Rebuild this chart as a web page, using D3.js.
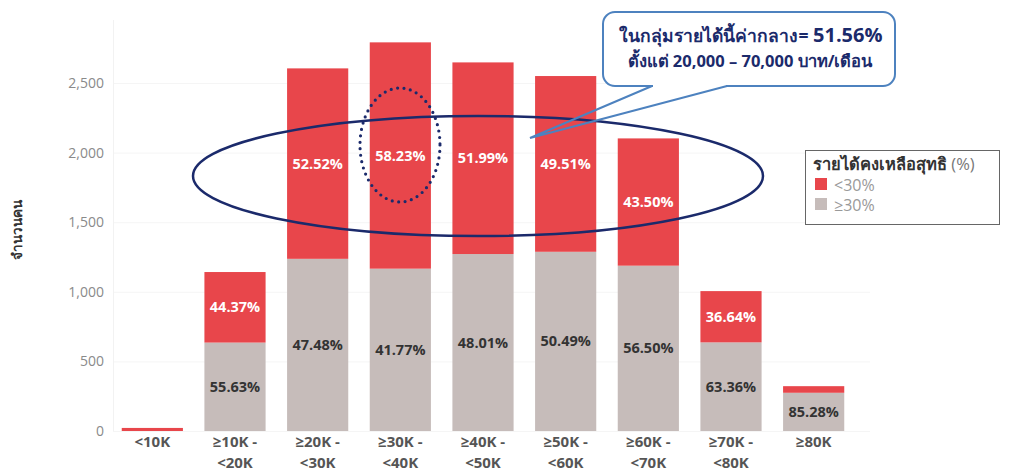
<!DOCTYPE html>
<html lang="th">
<head>
<meta charset="utf-8">
<script src="https://cdn.jsdelivr.net/npm/d3@7"></script>
<style>
  html, body { margin: 0; padding: 0; background: #fff; }
  svg { display: block; font-family: "Open Sans", "Noto Sans", "DejaVu Sans", sans-serif; }
</style>
</head>
<body>
<svg id="chart" width="1009" height="473"></svg>
<script>
// Income brackets (monthly, baht)
const categories = ["<10K", "≥10K -\n<20K", "≥20K -\n<30K", "≥30K -\n<40K", "≥40K -\n<50K",
                    "≥50K -\n<60K", "≥60K -\n<70K", "≥70K -\n<80K", "≥80K"];
// Number of people in each bracket
const totals = [22, 1142, 2605, 2792, 2648, 2550, 2102, 1005, 322];
// Share with net remaining income <30% (null = no label shown)
const lowShare = [null, 44.37, 52.52, 58.23, 51.99, 49.51, 43.50, 36.64, 14.72];
// Share with net remaining income ≥30%
const highShare = [null, 55.63, 47.48, 41.77, 48.01, 50.49, 56.50, 63.36, 85.28];
// Which <30% labels are printed inside the bars
const showLowLabel = [false, true, true, true, true, true, true, true, false];
const yTicks = [0, 500, 1000, 1500, 2000, 2500];

const legendTitle = "รายได้คงเหลือสุทธิ";
const legendTitleUnit = " (%)";
const legendItems = ["<30%", "≥30%"];
const yTitle = "จำนวนคน";
const noteLine1 = "ในกลุ่มรายได้นี้ค่ากลาง= ";
const noteValue = "51.56%";
const noteLine2 = "ตั้งแต่ 20,000 – 70,000 บาท/เดือน";

const RED = "#e8464b", GRAY = "#c6bcba", NAVY = "#1b2a6b", BLUE = "#4d82bf";

const svg = d3.select("#chart");

const x = d3.scaleBand().domain(categories).range([111, 855])
  .paddingInner(0.26).paddingOuter(0.13);
const y = d3.scaleLinear().domain([0, 2500]).range([431, 83]);

// Stacked segments: ≥30% at the bottom, <30% on top
const rows = categories.map((c, i) => {
  const hiPct = highShare[i] == null ? 0 : highShare[i];
  const hi = totals[i] * hiPct / 100;
  return { cat: c, i, hi, total: totals[i] };
});

// faint gridlines
svg.append("g").selectAll("line").data(yTicks).join("line")
  .attr("x1", 113).attr("x2", 870)
  .attr("y1", d => y(d) + 0.5).attr("y2", d => y(d) + 0.5)
  .attr("stroke", "#f5f5f5").attr("stroke-width", 1);
svg.append("line").attr("x1", 113.5).attr("x2", 113.5).attr("y1", 20).attr("y2", 431)
  .attr("stroke", "#f2f2f2");

// y axis
const yAxis = svg.append("g").attr("transform", "translate(104,0)")
  .call(d3.axisLeft(y).tickValues(yTicks).tickSize(0).tickPadding(0)
    .tickFormat(d3.format(",")));
yAxis.select(".domain").remove();
yAxis.selectAll("text").attr("fill", "#8a8a8a").style("font-size", "14px")
  .style("font-family", "'Open Sans', sans-serif");

svg.append("text")
  .attr("transform", "translate(22,230) rotate(-90)")
  .attr("text-anchor", "middle")
  .attr("fill", "#333").style("font-size", "13.5px").style("font-weight", "700")
  .text(yTitle);

// bars
const bars = svg.append("g");
bars.selectAll("rect.hi").data(rows).join("rect").attr("class", "hi")
  .attr("x", d => x(d.cat)).attr("width", x.bandwidth())
  .attr("y", d => y(d.hi)).attr("height", d => y(0) - y(d.hi))
  .attr("fill", GRAY);
bars.selectAll("rect.lo").data(rows).join("rect").attr("class", "lo")
  .attr("x", d => x(d.cat)).attr("width", x.bandwidth())
  .attr("y", d => y(d.total)).attr("height", d => y(d.hi) - y(d.total))
  .attr("fill", RED);

// percentage labels
const lab = svg.append("g").style("font-size", "14.5px").style("font-weight", "700")
  .attr("text-anchor", "middle");
lab.selectAll("text.lo").data(rows.filter(d => showLowLabel[d.i])).join("text")
  .attr("class", "lo")
  .attr("x", d => x(d.cat) + x.bandwidth() / 2)
  .attr("y", d => (y(d.total) + y(d.hi)) / 2 + 5)
  .attr("fill", "#fff")
  .text(d => lowShare[d.i].toFixed(2) + "%");
lab.selectAll("text.hi").data(rows.filter(d => highShare[d.i] != null)).join("text")
  .attr("class", "hi")
  .attr("x", d => x(d.cat) + x.bandwidth() / 2)
  .attr("y", d => (y(d.hi) + y(0)) / 2 + 5)
  .attr("fill", "#333")
  .text(d => highShare[d.i].toFixed(2) + "%");

// x axis labels (two lines)
const xl = svg.append("g").style("font-size", "15px").style("font-weight", "700")
  .attr("fill", "#555").attr("text-anchor", "middle");
categories.forEach(c => {
  const t = xl.append("text").attr("x", x(c) + x.bandwidth() / 2).attr("y", 447);
  c.split("\n").forEach((s, k) => {
    t.append("tspan").attr("x", x(c) + x.bandwidth() / 2).attr("dy", k ? 21 : 0).text(s);
  });
});

// highlight ellipses
svg.append("ellipse").attr("cx", 478).attr("cy", 176).attr("rx", 285).attr("ry", 60)
  .attr("fill", "none").attr("stroke", NAVY).attr("stroke-width", 2.5);
svg.append("ellipse").attr("cx", 400).attr("cy", 145).attr("rx", 40).attr("ry", 57)
  .attr("fill", "none").attr("stroke", NAVY).attr("stroke-width", 3.2)
  .attr("stroke-linecap", "round").attr("stroke-dasharray", "0 6.5");

// callout
const co = svg.append("g");
co.append("rect").attr("x", 603).attr("y", 12).attr("width", 292).attr("height", 74)
  .attr("rx", 12).attr("fill", "#fff").attr("stroke", BLUE).attr("stroke-width", 2);
co.append("rect").attr("x", 653).attr("y", 84).attr("width", 73).attr("height", 4).attr("fill", "#fff");
co.append("path").attr("d", "M652,86 L530,138 L727,86")
  .attr("fill", "none").attr("stroke", BLUE).attr("stroke-width", 2);
const t1 = co.append("text").attr("x", 751).attr("y", 42).attr("text-anchor", "middle")
  .attr("fill", NAVY).style("font-weight", "700");
t1.append("tspan").style("font-size", "17.5px").text(noteLine1);
t1.append("tspan").style("font-size", "20px").text(noteValue);
co.append("text").attr("x", 750).attr("y", 67).attr("text-anchor", "middle")
  .attr("fill", NAVY).style("font-weight", "700").style("font-size", "16.5px")
  .text(noteLine2);

// legend
const lg = svg.append("g");
lg.append("rect").attr("x", 805.5).attr("y", 150.5).attr("width", 194).attr("height", 74)
  .attr("fill", "#fff").attr("stroke", "#666").attr("stroke-width", 1);
const lt = lg.append("text").attr("x", 813).attr("y", 170).style("font-size", "16.5px");
lt.append("tspan").attr("fill", "#333").style("font-weight", "700").text(legendTitle);
lt.append("tspan").attr("fill", "#777").text(legendTitleUnit);
[RED, GRAY].forEach((col, k) => {
  lg.append("rect").attr("x", 815).attr("y", 178 + k * 20).attr("width", 12).attr("height", 12)
    .attr("fill", col);
  lg.append("text").attr("x", 834).attr("y", 190.5 + k * 20).attr("fill", "#999")
    .style("font-size", "16px").text(legendItems[k]);
});
</script>
</body>
</html>
